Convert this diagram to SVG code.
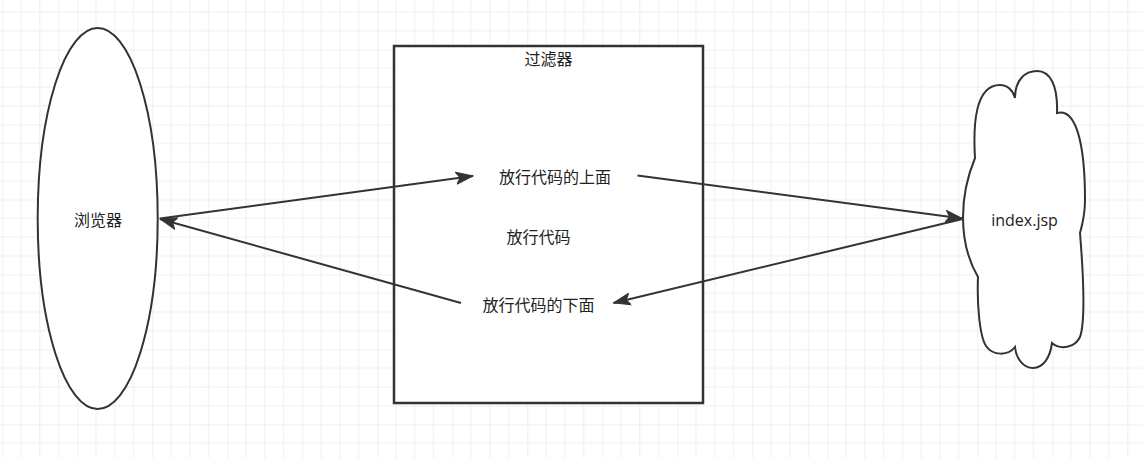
<svg xmlns="http://www.w3.org/2000/svg" width="1143" height="458" viewBox="0 0 1143 458">
  <style>
    .shape { fill: #ffffff; stroke: #333333; stroke-width: 2; }
    .box { fill: #ffffff; stroke: #333333; stroke-width: 2.5; }
    .edge { fill: none; stroke: #333333; stroke-width: 2; }
    .cjk { font-family: "Noto Sans CJK SC", "Noto Sans", sans-serif; font-size: 16px; fill: #222222; text-anchor: middle; dominant-baseline: central; }
    .lat { font-family: "Open Sans", "Noto Sans", sans-serif; font-size: 16px; fill: #222222; text-anchor: middle; dominant-baseline: central; }
  </style>
  <defs>
    <pattern id="grid" x="2.3" y="49.5" width="75" height="75" patternUnits="userSpaceOnUse">
      <path d="M18.75,0 V75 M37.5,0 V75 M56.25,0 V75 M0,18.75 H75 M0,37.5 H75 M0,56.25 H75" stroke="#eeeeee" stroke-width="1" fill="none"/>
      <path d="M0,0 V75 M0,0 H75" stroke="#e0e0e0" stroke-width="1" fill="none"/>
    </pattern>
    <marker id="arrow" markerUnits="userSpaceOnUse" markerWidth="18" markerHeight="14" viewBox="0 0 18 14" refX="17" refY="7" orient="auto">
      <path d="M0,1 L17,7 L0,13 L4,7 Z" fill="#333333" stroke="#333333" stroke-width="1"/>
    </marker>
  </defs>
  <rect x="0" y="0" width="1143" height="458" fill="#ffffff"/>
  <rect x="0" y="0" width="1143" height="458" fill="url(#grid)"/>

  <g id="browser">
    <ellipse class="shape" cx="97.7" cy="218.5" rx="60" ry="190.5"/>
    <text class="cjk" x="98" y="219">浏览器</text>
  </g>

  <g id="filter">
    <rect class="box" x="394" y="46" width="309" height="357"/>
    <text class="cjk" x="548.5" y="58">过滤器</text>
    <text class="cjk" x="555" y="175.5">放行代码的上面</text>
    <text class="cjk" x="538.5" y="236">放行代码</text>
    <text class="cjk" x="538.5" y="304">放行代码的下面</text>
  </g>

  <g id="index">
    <path class="shape" d="M975,158 C973,125 975,85 1000,85 C1007,85 1013,90 1015,98 C1015,80 1025,71 1037,71 C1050,71 1058,85 1057,113 C1075,108 1085,140 1085,200 C1085,215 1082,226 1080,233 C1083,270 1086,320 1080,337 C1075,348 1060,350 1052,343 C1050,358 1043,368 1033,368 C1023,368 1016,358 1015,347 C1008,356 993,356 986,346 C979,335 977,300 978,277 C968,260 963,240 963,217 C963,195 968,175 975,158 Z"/>
    <text class="lat" x="1024.5" y="219.5">index.jsp</text>
  </g>

  <g id="connectors">
    <path class="edge" d="M160,218.5 L473,176" marker-end="url(#arrow)"/>
    <path class="edge" d="M637.5,175.5 L962.5,218.5" marker-end="url(#arrow)"/>
    <path class="edge" d="M962.5,219 L613.5,303" marker-end="url(#arrow)"/>
    <path class="edge" d="M461,303 L160,219" marker-end="url(#arrow)"/>
  </g>
</svg>
